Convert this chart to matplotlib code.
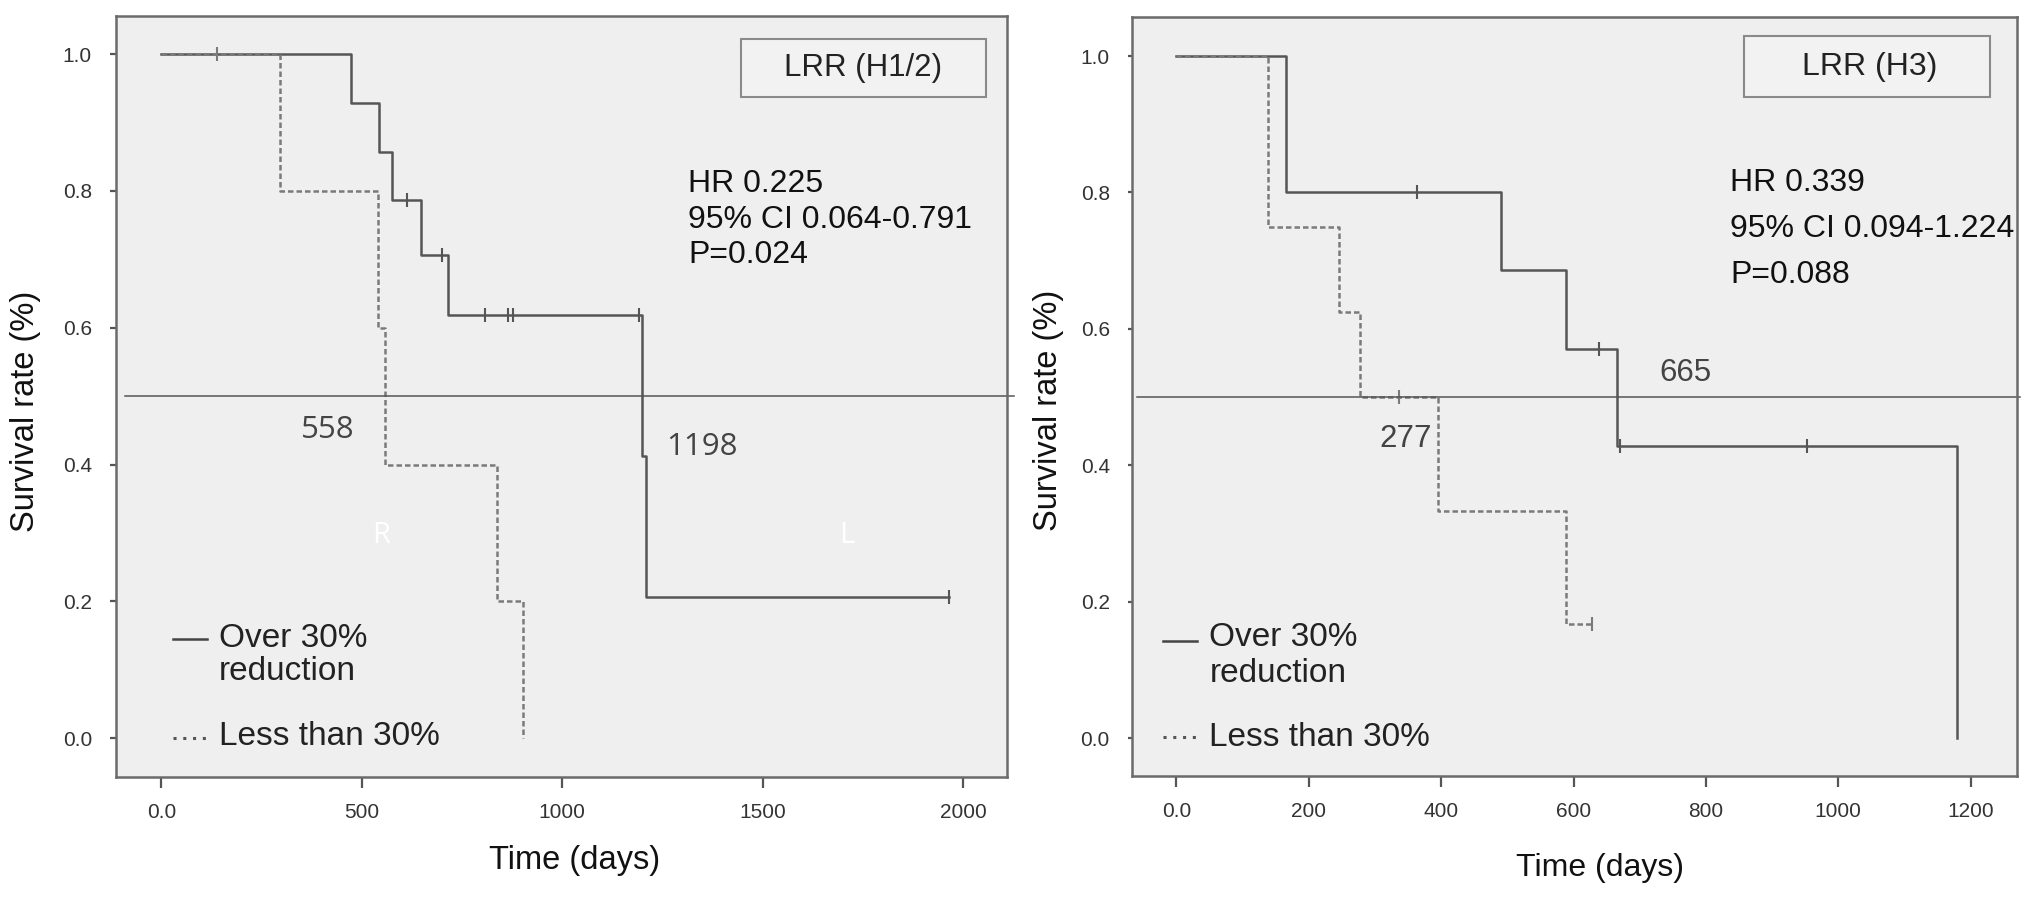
import matplotlib
matplotlib.use("Agg")
import matplotlib.pyplot as plt
from matplotlib.patches import Rectangle

# ---- data ----
# left panel: LRR (H1/2)
h12_over_t = [0, 473, 542, 575, 648, 714, 1198, 1210, 1965]
h12_over_s = [1.0, 0.929, 0.857, 0.786, 0.707, 0.619, 0.413, 0.206, 0.206]
h12_over_cens_t = [612, 700, 807, 864, 877, 1192, 1965]
h12_over_cens_s = [0.786, 0.707, 0.619, 0.619, 0.619, 0.619, 0.206]
h12_less_t = [0, 295, 540, 558, 838, 902]
h12_less_s = [1.0, 0.8, 0.6, 0.4, 0.2, 0.0]
h12_less_cens_t = [139]
h12_less_cens_s = [1.0]
h12_xticks = [0, 500, 1000, 1500, 2000]
h12_xticklabels = ["0.0", "500", "1000", "1500", "2000"]
h12_stats = ["HR 0.225", "95% CI 0.064-0.791", "P=0.024"]

# right panel: LRR (H3)
h3_over_t = [0, 166, 490, 589, 665, 1180]
h3_over_s = [1.0, 0.8, 0.686, 0.571, 0.429, 0.0]
h3_over_cens_t = [364, 638, 670, 952]
h3_over_cens_s = [0.8, 0.571, 0.429, 0.429]
h3_less_t = [0, 138, 245, 277, 395, 589, 628]
h3_less_s = [1.0, 0.75, 0.625, 0.5, 0.333, 0.167, 0.167]
h3_less_cens_t = [337, 628]
h3_less_cens_s = [0.5, 0.167]
h3_xticks = [0, 200, 400, 600, 800, 1000, 1200]
h3_xticklabels = ["0.0", "200", "400", "600", "800", "1000", "1200"]
h3_stats = ["HR 0.339", "95% CI 0.094-1.224", "P=0.088"]

yticks = [0.0, 0.2, 0.4, 0.6, 0.8, 1.0]
yticklabels = ["0.0", "0.2", "0.4", "0.6", "0.8", "1.0"]

SOLID = "#555555"
DASH = "#7a7a7a"
BG = "#efefef"
ARIAL = "Liberation Sans"

fig = plt.figure(figsize=(20.31, 8.98), dpi=100)
ax1 = fig.add_axes([0.0571, 0.1347, 0.4387, 0.8478])
ax2 = fig.add_axes([0.5574, 0.1359, 0.4357, 0.8448])


def style_axes(ax, xlim, ylim, xticks, xticklabels, ylen):
    ax.set_facecolor(BG)
    ax.set_xlim(*xlim)
    ax.set_ylim(*ylim)
    ax.set_xticks(xticks)
    ax.set_xticklabels(xticklabels, fontfamily=ARIAL, fontsize=15, color="#333333")
    ax.set_yticks(yticks)
    ax.set_yticklabels(yticklabels, fontfamily=ARIAL, fontsize=15, color="#333333")
    ax.tick_params(axis="x", direction="out", length=8, width=1.6, color="#555555", pad=11)
    ax.tick_params(axis="y", direction="out", length=ylen, width=1.6, color="#555555",
                   pad=13)
    for sp in ax.spines.values():
        sp.set_color("#6b6b6b")
        sp.set_linewidth(1.8)


def draw_curves(ax, ot, os_, oct_, ocs, lt, ls, lct, lcs):
    ax.step(ot, os_, where="post", color=SOLID, lw=1.8)
    ax.step(lt, ls, where="post", color=DASH, lw=1.8, linestyle=(0, (2.2, 1.2)))
    ax.plot(oct_, ocs, linestyle="none", marker="|", ms=10, mew=1.5, color=SOLID)
    ax.plot(lct, lcs, linestyle="none", marker="|", ms=10, mew=1.5, color=DASH)


def draw_legend(ax, x0, x1, y_solid, y_dot, tx, yb1, yb2, yb3):
    ax.plot([x0, x1], [y_solid, y_solid], transform=ax.transAxes, color="#444444", lw=1.8)
    ax.plot([x0, x1], [y_dot, y_dot], transform=ax.transAxes, color="#555555", lw=2.2,
            linestyle=(0, (1, 2.2)))
    kw = dict(transform=ax.transAxes, fontfamily=ARIAL, fontsize=24, color="#222222",
              va="baseline", ha="left")
    ax.text(tx, yb1, "Over 30%", **kw)
    ax.text(tx, yb2, "reduction", **kw)
    ax.text(tx, yb3, "Less than 30%", **kw)


# ---- left panel ----
style_axes(ax1, (-113, 2109), (-0.0566, 1.056), h12_xticks, h12_xticklabels, 4.3)
draw_curves(ax1, h12_over_t, h12_over_s, h12_over_cens_t, h12_over_cens_s,
            h12_less_t, h12_less_s, h12_less_cens_t, h12_less_cens_s)
ax1.plot([-90, 2126], [0.5, 0.5], color="#555555", lw=1.1, clip_on=False)
ax1.set_xlabel("Time (days)", fontfamily=ARIAL, fontsize=23.5, color="#111111")
ax1.xaxis.set_label_coords(0.515, -0.089)
ax1.set_ylabel("Survival rate (%)", fontfamily=ARIAL, fontsize=23.5, color="#111111")
ax1.yaxis.set_label_coords(-0.084, 0.48)

ax1.add_patch(Rectangle((0.7015, 0.893), 0.275, 0.076, transform=ax1.transAxes,
                        facecolor="#f2f2f2", edgecolor="#8a8a8a", lw=1.5))
ax1.text(0.839, 0.931, "LRR (H1/2)", transform=ax1.transAxes, ha="center", va="center",
         fontfamily=ARIAL, fontsize=22.5, color="#222222")
for i, s in enumerate(h12_stats):
    ax1.text(0.642, 0.768 - i * 0.0465, s, transform=ax1.transAxes, ha="left", va="baseline",
             fontfamily=ARIAL, fontsize=23, color="#111111")
ax1.text(416, 0.439, "558", ha="center", va="baseline", fontfamily="Open Sans",
         fontsize=22.5, color="#444444")
ax1.text(1258, 0.414, "1198", ha="left", va="baseline", fontfamily="Open Sans",
         fontsize=22.5, color="#444444")
ax1.text(548, 0.285, "R", ha="center", va="baseline", fontfamily="Open Sans",
         fontsize=21, color="white")
ax1.text(1710, 0.285, "L", ha="center", va="baseline", fontfamily="Open Sans",
         fontsize=21, color="white")
draw_legend(ax1, 0.064, 0.102, 0.181, 0.0512, 0.1156, 0.1708, 0.1274, 0.042)

# ---- right panel ----
style_axes(ax2, (-67, 1270), (-0.0553, 1.0567), h3_xticks, h3_xticklabels, 3)
draw_curves(ax2, h3_over_t, h3_over_s, h3_over_cens_t, h3_over_cens_s,
            h3_less_t, h3_less_s, h3_less_cens_t, h3_less_cens_s)
ax2.plot([-60, 1274], [0.5, 0.5], color="#555555", lw=1.1, clip_on=False)
ax2.set_xlabel("Time (days)", fontfamily=ARIAL, fontsize=23, color="#111111")
ax2.xaxis.set_label_coords(0.529, -0.102)
ax2.set_ylabel("Survival rate (%)", fontfamily=ARIAL, fontsize=23.5, color="#111111")
ax2.yaxis.set_label_coords(-0.077, 0.4815)

ax2.add_patch(Rectangle((0.6913, 0.8946), 0.2782, 0.0808, transform=ax2.transAxes,
                        facecolor="#f2f2f2", edgecolor="#8a8a8a", lw=1.5))
ax2.text(0.834, 0.935, "LRR (H3)", transform=ax2.transAxes, ha="center", va="center",
         fontfamily=ARIAL, fontsize=23, color="#222222")
for i, s in enumerate(h3_stats):
    ax2.text(0.6757, 0.7715 - i * 0.0607, s, transform=ax2.transAxes, ha="left",
             va="baseline", fontfamily=ARIAL, fontsize=23, color="#111111")
ax2.text(769, 0.524, "665", ha="center", va="baseline", fontfamily=ARIAL,
         fontsize=22.5, color="#444444")
ax2.text(347, 0.427, "277", ha="center", va="baseline", fontfamily=ARIAL,
         fontsize=22.5, color="#444444")
draw_legend(ax2, 0.035, 0.073, 0.178, 0.051, 0.0874, 0.1714, 0.1235, 0.0392)

fig.savefig("out.png", dpi=100, facecolor="white")
